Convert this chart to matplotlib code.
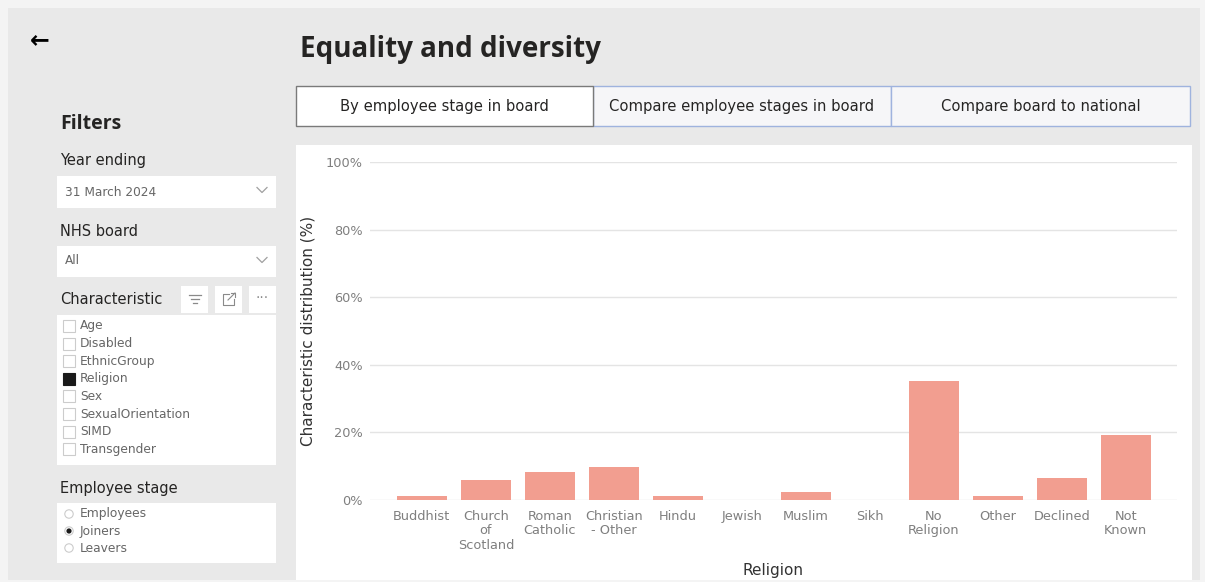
import matplotlib
matplotlib.use("Agg")
import matplotlib.pyplot as plt
from matplotlib.patches import Rectangle, Circle

# religion breakdown of joiners, year ending 31 March 2024, all boards
religions = ["Buddhist", "Church\nof\nScotland", "Roman\nCatholic", "Christian\n- Other",
             "Hindu", "Jewish", "Muslim", "Sikh", "No\nReligion", "Other",
             "Declined", "Not\nKnown"]
share_pct = [1.2, 5.9, 8.2, 9.8, 1.2, 0.0, 2.3, 0.0, 35.2, 1.2, 6.6, 19.3]
y_ticks = [0, 20, 40, 60, 80, 100]

characteristics = ["Age", "Disabled", "EthnicGroup", "Religion", "Sex",
                   "SexualOrientation", "SIMD", "Transgender"]
selected_char = "Religion"
stages = ["Employees", "Joiners", "Leavers"]
selected_stage = "Joiners"
tabs = ["By employee stage in board", "Compare employee stages in board",
        "Compare board to national"]

W, H = 1205, 582
DARK = "#252423"
GREY = "#666666"
ICON = "#8a8a8a"
BAR = "#f29e90"

plt.rcParams["font.family"] = ["DejaVu Sans"]
fig = plt.figure(figsize=(W / 100, H / 100), dpi=100, facecolor="#f4f4f4")

# page canvas, drawn in pixel units
bg = fig.add_axes([0, 0, 1, 1])
bg.set_xlim(0, W)
bg.set_ylim(H, 0)
bg.axis("off")


def box(x0, y0, x1, y1, fc, ec="none", lw=1.0, z=1):
    bg.add_patch(Rectangle((x0, y0), x1 - x0, y1 - y0, facecolor=fc,
                           edgecolor=ec, linewidth=lw, zorder=z))


def chevron(cx, cy):
    bg.plot([cx - 5, cx, cx + 5], [cy - 2.5, cy + 2.5, cy - 2.5], color="#a0a0a0",
            linewidth=0.9, zorder=3)


box(8, 8, 1200, 580, "#e9e9e9")
box(296, 145, 1192, 580, "white")

bg.text(30, 40, "\u2190", fontsize=17, fontweight="bold", color="black",
        va="center", ha="left")
bg.text(300, 50, "Equality and diversity", family="Open Sans", fontsize=20,
        fontweight="bold", color=DARK, va="center", ha="left")

# tab buttons
tab_edges = [296, 593, 891, 1190]
for i, label in enumerate(tabs):
    x0, x1 = tab_edges[i], tab_edges[i + 1]
    if i == 0:
        box(x0, 86, x1, 126, "white", "#7a7a7a", 1.0, z=3)
    else:
        box(x0, 86, x1, 126, "#f6f6f8", "#9fb3de", 1.0, z=2)
    bg.text((x0 + x1) / 2, 106, label, fontsize=10.6, color=DARK,
            ha="center", va="center", zorder=4)

# filter pane
bg.text(60, 124, "Filters", family="Open Sans", fontsize=14, fontweight="bold",
        color=DARK, va="center")
bg.text(60, 161, "Year ending", fontsize=10.5, color=DARK, va="center")
box(57, 176, 276, 208, "white")
bg.text(65, 192, "31 March 2024", fontsize=8.7, color=GREY, va="center")
chevron(262, 190)
bg.text(60, 231, "NHS board", fontsize=10.5, color=DARK, va="center")
box(57, 246, 276, 277, "white")
bg.text(65, 261, "All", fontsize=8.7, color=GREY, va="center")
chevron(262, 260)

bg.text(60, 300, "Characteristic", fontsize=10.5, color=DARK, va="center")
for x0 in (181, 215, 249):
    box(x0, 286, x0 + 27, 313, "white")
# filter icon
for k, half in enumerate((6, 4, 2)):
    bg.plot([194.5 - half, 194.5 + half], [295 + k * 4] * 2, color=ICON,
            linewidth=0.9, zorder=3)
# focus mode icon
bg.plot([229, 223, 223, 234, 234], [294, 294, 305, 305, 299], color=ICON,
        linewidth=0.8, zorder=3)
bg.plot([228, 235], [300, 293], color=ICON, linewidth=0.8, zorder=3)
bg.plot([231, 235, 235], [293, 293, 297], color=ICON, linewidth=0.8, zorder=3)
bg.text(262.5, 298, "\u00b7\u00b7\u00b7", fontsize=10, color=ICON,
        ha="center", va="center")

box(57, 315, 276, 465, "white")
for i, name in enumerate(characteristics):
    y = 326 + i * 17.6
    on = name == selected_char
    box(63, y - 6, 75, y + 6, "#1a1a1a" if on else "white",
        "#1a1a1a" if on else "#cccccc", 0.8, z=2)
    bg.text(80, y, name, fontsize=8.8, color=GREY, va="center")

bg.text(60, 489, "Employee stage", fontsize=10.5, color=DARK, va="center")
box(57, 503, 276, 563, "white")
for i, name in enumerate(stages):
    y = 514 + i * 17
    bg.add_patch(Circle((69, y), 4.2, facecolor="white", edgecolor="#cccccc",
                        linewidth=0.8, zorder=2))
    if name == selected_stage:
        bg.add_patch(Circle((69, y), 2.6, facecolor="#1a1a1a", zorder=3))
    bg.text(80, y, name, fontsize=8.8, color=GREY, va="center")

# bar chart
ax = fig.add_axes([370 / W, (H - 500) / H, 807 / W, 338 / H])
ax.set_facecolor("none")
x = range(len(religions))
ax.bar(x, share_pct, width=0.78, color=BAR, zorder=2)
ax.set_xlim(-0.81, len(religions) - 0.2)
ax.set_ylim(0, 100)
ax.set_yticks(y_ticks)
ax.set_yticklabels([f"{v}%" for v in y_ticks])
ax.set_xticks(list(x))
ax.set_xticklabels(religions, linespacing=1.15)
ax.grid(axis="y", color="#e4e4e4", linewidth=1.0, zorder=0)
for s in ax.spines.values():
    s.set_visible(False)
ax.tick_params(axis="both", length=0, labelsize=9.3, labelcolor="#7f7f7f")
ax.tick_params(axis="x", pad=7)
ax.tick_params(axis="y", pad=5)
ax.set_ylabel("Characteristic distribution (%)", fontsize=11, color="#333333")
ax.yaxis.set_label_coords(-0.068, 0.5)
ax.set_xlabel("Religion", fontsize=11, color="#333333")
ax.xaxis.set_label_coords(0.5, -0.186)

fig.savefig("out.png", dpi=100, facecolor=fig.get_facecolor())
